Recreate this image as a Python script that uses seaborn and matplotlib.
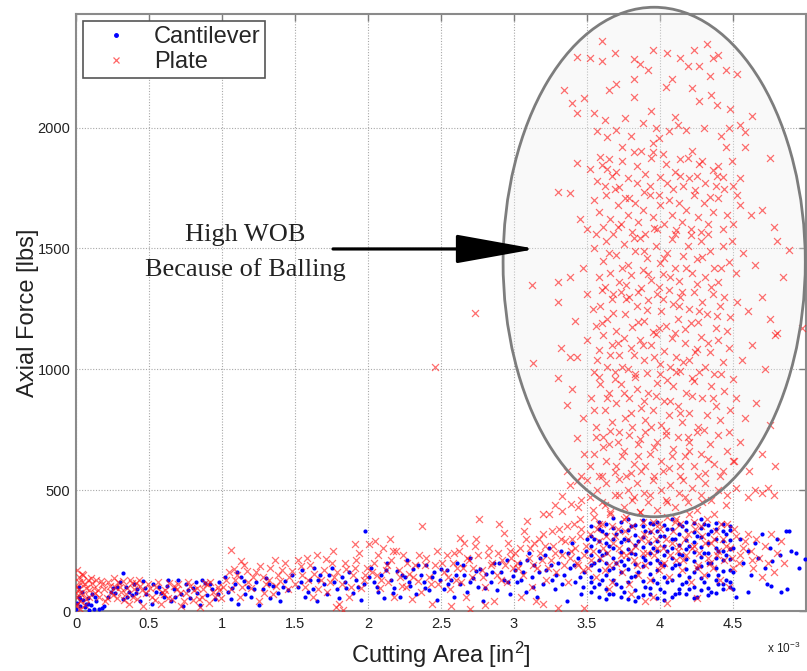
import matplotlib
matplotlib.use("Agg")
import matplotlib.pyplot as plt
import seaborn as sns
import pandas as pd
from matplotlib.patches import Ellipse
from matplotlib.lines import Line2D

# ---------------- data (x in 10^-3 in^2, y in lbs) ----------------
series_names = ["Cantilever", "Plate"]

x_ticks = [0, 0.5, 1, 1.5, 2, 2.5, 3, 3.5, 4, 4.5]
x_tick_labels = ["0", "0.5", "1", "1.5", "2", "2.5", "3", "3.5", "4", "4.5"]
y_ticks = [0, 500, 1000, 1500, 2000]
y_tick_labels = ["0", "500", "1000", "1500", "2000"]

plate_cloud = [
    (3.43,2294),(3.52,2286),(3.60,2357),(3.60,2274),(3.69,2307),(3.82,2282),(3.86,2262),(3.95,2323),
    (4.05,2307),(4.14,2286),(4.19,2255),(4.23,2323),(4.27,2257),(4.32,2344),(4.36,2290),(4.40,2300),
    (4.45,2240),(4.34,2215),(4.53,2220),(3.92,2240),(3.34,2157),(3.65,2157),(3.70,2180),(3.82,2200),
    (4.04,2170),(4.08,2200),(4.22,2165),
    (3.40,2100),(3.48,2124),(3.82,2128),(4.27,2110),(4.35,2135),(4.39,2095),(4.48,2075),(3.55,2060),
    (3.62,2030),(3.70,1990),(3.76,2040),(3.88,2020),(3.94,2070),(3.97,2000),(4.06,1985),(4.12,2010),
    (4.18,1990),(4.30,2000),(4.42,1965),(4.47,2000),(4.55,2010),(4.58,1980),(3.64,1960),(3.80,1965),
    (3.99,1955),(3.57,1985),(3.43,2062),(4.10,2045),(4.63,2050),
    (3.43,1854),(3.52,1830),(3.60,1845),(3.65,1870),(3.70,1815),(3.74,1920),(3.82,1900),(3.87,1905),
    (3.95,1900),(3.95,1937),(4.02,1890),(4.14,1870),(4.22,1905),(4.27,1850),(4.36,1825),(4.40,1840),
    (4.45,1920),(4.58,1920),(4.75,1875),(3.57,1780),(3.62,1760),(3.67,1800),(3.72,1755),(3.78,1790),
    (3.84,1770),(3.90,1810),(3.93,1760),(4.00,1795),(4.05,1770),(4.10,1815),(4.16,1760),(4.20,1790),
    (4.25,1800),(4.31,1770),(4.38,1760),(4.43,1795),(4.50,1760),(4.55,1790),(3.30,1734),(3.38,1730),
    (3.55,1700),(3.58,1650),(3.61,1590),(3.63,1720),(3.66,1620),(3.68,1560),(3.71,1680),(3.73,1600),
    (3.76,1710),(3.78,1640),(3.81,1570),(3.83,1690),(3.85,1610),(3.88,1660),(3.90,1560),(3.93,1720),
    (3.95,1630),(3.98,1580),(4.00,1680),(4.03,1600),(4.06,1700),(4.08,1640),(4.10,1560),(4.13,1690),
    (4.15,1610),(4.18,1660),(4.21,1580),(4.23,1720),(4.26,1630),(4.28,1570),(4.30,1690),(4.33,1600),
    (4.36,1650),(4.40,1710),(4.43,1580),(4.46,1640),(4.50,1600),(4.55,1680),(4.62,1640),(4.70,1660),
    (4.78,1590),(4.80,1530),(3.45,1620),(3.50,1580),
    (3.12,1348),(3.30,1361),(3.38,1380),(3.47,1420),(3.55,1500),(3.58,1380),(3.61,1450),(3.63,1530),
    (3.66,1400),(3.70,1475),(3.72,1360),(3.75,1520),(3.78,1430),(3.80,1390),(3.83,1490),(3.86,1545),
    (3.88,1410),(3.91,1460),(3.94,1370),(3.97,1510),(4.00,1440),(4.02,1395),(4.05,1480),(4.08,1540),
    (4.10,1420),(4.13,1365),(4.16,1470),(4.19,1510),(4.22,1400),(4.25,1455),(4.28,1530),(4.31,1380),
    (4.34,1490),(4.37,1420),(4.40,1360),(4.43,1510),(4.47,1445),(4.52,1400),(4.57,1480),(4.65,1430),
    (4.84,1382),(4.88,1494),
    (3.30,1280),(3.42,1200),(3.50,1310),(3.56,1180),(3.59,1260),(3.62,1340),(3.64,1210),(3.67,1290),
    (3.70,1160),(3.73,1320),(3.76,1230),(3.79,1300),(3.81,1175),(3.84,1260),(3.87,1335),(3.89,1200),
    (3.92,1285),(3.95,1155),(3.98,1310),(4.01,1240),(4.04,1180),(4.06,1330),(4.09,1270),(4.12,1210),
    (4.14,1300),(4.17,1165),(4.20,1250),(4.23,1320),(4.26,1195),(4.29,1280),(4.32,1230),(4.35,1340),
    (4.38,1170),(4.41,1260),(4.44,1300),(4.48,1215),(4.53,1280),(4.60,1240),(4.70,1300),(4.80,1149),
    (4.97,1170),(4.75,1210),
    (3.13,1025),(3.32,1087),(3.38,1050),(3.43,1050),(3.30,963),(3.50,1120),(3.55,990),(3.58,1080),
    (3.61,1140),(3.64,1010),(3.67,1100),(3.69,960),(3.72,1060),(3.75,1130),(3.78,1000),(3.80,1090),
    (3.83,970),(3.86,1120),(3.89,1040),(3.91,985),(3.94,1100),(3.97,1145),(4.00,1020),(4.03,1075),
    (4.05,955),(4.08,1130),(4.11,1050),(4.14,995),(4.17,1110),(4.20,1040),(4.22,965),(4.25,1085),
    (4.28,1135),(4.31,1010),(4.34,1070),(4.37,980),(4.40,1120),(4.43,1030),(4.47,1090),(4.50,960),
    (4.56,1040),(4.63,1100),(4.72,1000),(4.79,1141),
    (3.36,851),(3.40,920),(3.47,800),(3.53,880),(3.56,760),(3.59,940),(3.62,830),(3.65,900),
    (3.67,780),(3.70,860),(3.73,940),(3.76,800),(3.79,880),(3.81,760),(3.84,920),(3.87,840),
    (3.90,790),(3.92,900),(3.95,830),(3.98,945),(4.01,770),(4.03,870),(4.06,810),(4.09,930),
    (4.12,850),(4.15,780),(4.18,900),(4.20,820),(4.23,950),(4.26,760),(4.29,880),(4.32,810),
    (4.35,930),(4.38,850),(4.41,790),(4.44,910),(4.48,830),(4.52,880),(4.58,800),(4.66,860),(4.75,770),
    (3.36,581),(3.43,714),(3.43,539),(3.48,650),(3.52,600),(3.56,720),(3.58,560),(3.61,680),
    (3.63,620),(3.66,745),(3.69,575),(3.71,700),(3.74,640),(3.77,560),(3.79,730),(3.82,610),
    (3.85,690),(3.87,580),(3.90,740),(3.93,650),(3.96,560),(3.98,700),(4.01,620),(4.04,745),
    (4.06,590),(4.09,670),(4.12,720),(4.14,560),(4.17,640),(4.20,700),(4.23,600),(4.25,740),
    (4.28,650),(4.31,570),(4.34,690),(4.37,610),(4.40,730),(4.43,580),(4.46,660),(4.50,620),
    (4.55,700),(4.61,580),(4.79,601),(4.70,650),
    (3.20,402),(3.28,440),(3.33,477),(3.38,520),(3.46,460),(3.50,540),(3.54,420),(3.57,500),
    (3.60,450),(3.63,530),(3.66,410),(3.69,480),(3.72,545),(3.75,430),(3.78,500),(3.81,460),
    (3.84,530),(3.86,410),(3.89,490),(3.92,450),(3.95,540),(3.98,420),(4.01,500),(4.04,460),
    (4.07,520),(4.10,430),(4.13,490),(4.16,540),(4.19,450),(4.22,510),(4.25,420),(4.28,480),
    (4.31,530),(4.35,460),(4.40,500),(4.45,440),(4.52,510),(4.60,470),(4.65,500),(4.74,510),
    (4.70,490),(4.78,480),(2.46,1010),(2.73,1232),
]

plate_cloud_extra = [
    (3.59,1880),(3.64,1830),(3.69,1745),(3.74,1860),(3.79,1710),(3.84,1840),(3.89,1735),(3.94,1875),
    (3.99,1720),(4.04,1850),(4.09,1745),(4.14,1800),(4.19,1875),(4.24,1740),(4.29,1860),(4.34,1715),
    (4.39,1800),(4.44,1745),(4.49,1860),(4.53,1720),
    (3.56,1560),(3.60,1330),(3.65,1480),(3.68,1310),(3.71,1590),(3.74,1420),(3.77,1350),(3.82,1545),
    (3.85,1320),(3.89,1490),(3.92,1395),(3.96,1585),(3.99,1340),(4.03,1460),(4.07,1380),(4.11,1575),
    (4.15,1320),(4.18,1420),(4.21,1555),(4.25,1355),(4.29,1465),(4.33,1560),(4.36,1310),(4.42,1420),
    (4.49,1530),
    (3.54,1250),(3.57,1040),(3.60,1190),(3.66,1060),(3.68,1235),(3.71,1110),(3.74,1010),(3.77,1290),
    (3.82,1060),(3.85,1195),(3.88,1100),(3.91,1245),(3.96,1050),(3.99,1170),(4.02,1290),(4.07,1010),
    (4.10,1150),(4.13,1260),(4.16,1030),(4.21,1190),(4.24,1070),(4.27,1240),(4.33,1110),(4.39,1220),
    (4.46,1160),
    (3.55,830),(3.58,970),(3.61,720),(3.64,880),(3.69,990),(3.72,740),(3.75,900),(3.80,820),
    (3.83,980),(3.86,710),(3.89,870),(3.94,760),(3.97,890),(4.00,980),(4.04,730),(4.07,870),
    (4.11,990),(4.14,820),(4.19,720),(4.22,890),(4.27,990),(4.30,750),(4.36,880),(4.42,980),(4.47,740),
    (3.45,380),(3.52,470),(3.55,650),(3.58,360),(3.60,560),(3.62,440),(3.65,690),(3.67,350),
    (3.70,600),(3.72,480),(3.75,660),(3.77,390),(3.80,570),(3.82,470),(3.85,640),(3.88,370),
    (3.90,600),(3.93,480),(3.96,680),(3.99,360),(4.02,580),(4.05,450),(4.08,640),(4.11,380),
    (4.14,600),(4.17,470),(4.20,660),(4.23,370),(4.26,560),(4.29,450),(4.33,630),(4.37,400),
    (4.41,560),(4.46,480),(4.51,620),
]

plate_band = [
    (0.00,20),(0.01,60),(0.00,100),(0.02,140),(0.01,170),(0.03,40),(0.02,90),(0.04,120),(0.05,70),
    (0.03,10),(0.06,110),(0.07,50),(0.08,130),(0.09,85),(0.01,30),(0.04,155),(0.00,75),(0.06,25),
    (0.12,95),(0.14,130),(0.16,60),(0.18,110),(0.20,40),(0.22,120),(0.24,80),(0.26,135),(0.28,55),
    (0.30,100),(0.32,125),(0.34,70),(0.36,30),(0.38,115),(0.40,90),(0.42,50),(0.44,105),(0.46,20),
    (0.48,75),(0.15,85),(0.27,100),(0.35,95),(0.43,130),(0.11,115),
    (0.52,60),(0.55,100),(0.58,30),(0.61,85),(0.64,115),(0.66,50),(0.69,90),(0.72,20),(0.75,75),
    (0.78,105),(0.80,45),(0.83,95),(0.86,60),(0.88,115),(0.91,35),(0.94,80),(0.97,100),(0.99,55),
    (0.60,70),(0.70,110),(0.85,15),(0.92,120),
    (1.03,130),(1.06,90),(1.08,175),(1.10,150),(1.12,60),(1.15,190),(1.18,120),(1.20,95),(1.23,160),
    (1.25,40),(1.28,140),(1.30,110),(1.33,180),(1.35,70),(1.38,150),(1.40,125),(1.43,200),(1.45,90),
    (1.48,165),(1.06,253),(1.13,205),(1.36,210),
    (1.52,210),(1.55,150),(1.57,100),(1.60,190),(1.62,60),(1.65,230),(1.68,130),(1.70,170),(1.72,80),
    (1.75,200),(1.77,140),(1.80,30),(1.82,110),(1.85,175),(1.87,60),(1.90,150),(1.92,210),(1.95,95),
    (1.97,130),(1.99,180),(1.58,220),(1.78,15),(1.91,278),(1.76,249),(1.83,5),
    (2.01,278),(2.04,200),(2.06,150),(2.08,95),(2.10,260),(2.12,170),(2.14,120),(2.16,210),(2.18,60),
    (2.19,249),(2.22,140),(2.24,230),(2.26,100),(2.28,155),(2.30,50),(2.32,190),(2.34,125),(2.36,80),
    (2.37,353),(2.40,220),(2.42,140),(2.44,30),(2.46,190),(2.48,110),(2.05,290),(2.15,300),
    (2.52,160),(2.54,230),(2.56,90),(2.58,200),(2.60,130),(2.62,250),(2.63,303),(2.65,180),(2.67,60),
    (2.69,210),(2.71,140),(2.73,270),(2.74,299),(2.76,382),(2.78,170),(2.80,100),(2.82,230),(2.84,190),
    (2.86,40),(2.88,150),(2.90,361),(2.92,210),(2.93,324),(2.95,120),(2.97,250),(2.99,180),(2.57,20),
    (2.70,10),(2.80,25),
    (3.02,200),(3.04,260),(3.06,150),(3.08,300),(3.09,373),(3.10,220),(3.12,100),(3.14,280),(3.16,180),
    (3.18,240),(3.20,320),(3.22,130),(3.24,402),(3.25,210),(3.27,270),(3.29,160),(3.31,340),(3.33,230),
    (3.35,290),(3.37,120),(3.39,250),(3.41,360),(3.43,200),(3.45,310),(3.47,170),(3.49,270),(3.05,60),
    (3.15,40),(3.30,12),(3.44,430),(3.46,560),(3.20,30),(3.33,415),(3.39,444),
    (3.51,180),(3.52,320),(3.54,250),(3.55,390),(3.56,140),(3.58,290),(3.59,220),(3.60,360),(3.62,170),
    (3.63,310),(3.64,240),(3.66,400),(3.67,120),(3.68,280),(3.70,200),(3.71,340),(3.72,260),(3.74,160),
    (3.75,380),(3.77,230),(3.78,300),(3.79,110),(3.81,350),(3.82,210),(3.83,270),(3.85,150),(3.86,410),
    (3.88,240),(3.89,320),(3.90,190),(3.92,290),(3.93,130),(3.95,370),(3.96,230),(3.97,300),(3.99,170),
    (4.00,340),(4.02,260),(4.03,200),(4.05,390),(4.06,140),(4.08,280),(4.09,330),(4.11,210),(4.12,250),
    (4.14,360),(4.15,170),(4.17,300),(4.18,230),(4.20,400),(4.21,120),(4.23,270),(4.24,340),(4.26,190),
    (4.27,240),(4.29,310),(4.30,150),(4.32,380),(4.33,220),(4.35,280),(4.36,180),(4.38,330),(4.40,250),
    (4.41,130),(4.43,300),(4.44,210),(4.46,360),(4.48,260),(4.50,180),(4.52,310),(4.55,230),(4.58,290),
    (4.47,100),(4.05,33),(3.95,60),(3.80,70),(3.65,90),(3.48,12),(3.90,40),(4.25,52),
    (4.62,250),(4.64,180),(4.66,300),(4.68,220),(4.70,140),(4.72,270),(4.74,200),(4.76,320),(4.78,160),
    (4.80,240),(4.83,290),(4.85,200),
]

plate_band_extra = [
    (0.02,120),(0.03,75),(0.05,150),(0.07,95),(0.09,60),(0.10,135),(0.13,75),(0.17,125),(0.19,90),
    (0.21,55),(0.23,105),(0.25,65),(0.29,120),(0.31,80),(0.33,45),(0.37,130),(0.39,60),(0.41,115),
    (0.45,85),(0.49,110),
    (0.51,95),(0.54,45),(0.56,120),(0.59,80),(0.63,55),(0.67,105),(0.71,75),(0.74,40),(0.77,120),
    (0.81,85),(0.84,50),(0.87,90),(0.90,110),(0.95,60),(0.98,85),
    (1.01,100),(1.05,160),(1.09,130),(1.14,100),(1.17,165),(1.21,140),(1.26,185),(1.29,75),(1.32,130),
    (1.37,105),(1.41,170),(1.46,140),(1.50,110),(1.54,185),(1.59,130),(1.63,155),(1.66,90),(1.71,215),
    (1.74,120),(1.79,160),(1.84,200),(1.88,100),(1.91,180),(1.94,240),(1.98,150),
    (2.03,160),(2.07,230),(2.09,130),(2.13,190),(2.17,250),(2.21,170),(2.23,105),(2.27,200),(2.31,140),
    (2.35,230),(2.39,190),(2.43,110),(2.47,250),(2.51,200),(2.55,140),(2.59,240),(2.61,180),(2.64,120),
    (2.68,220),(2.72,180),(2.75,230),(2.79,140),(2.83,260),(2.85,200),(2.89,240),(2.91,130),(2.94,190),
    (2.96,280),(2.98,220),(2.66,280),
    (3.01,240),(3.03,180),(3.07,330),(3.11,260),(3.13,190),(3.17,300),(3.19,210),(3.21,270),(3.23,180),
    (3.26,330),(3.28,240),(3.32,300),(3.34,190),(3.36,350),(3.38,220),(3.40,300),(3.42,260),(3.44,190),
    (3.46,340),(3.48,230),
    (3.53,210),(3.57,340),(3.61,260),(3.65,190),(3.69,310),(3.73,230),(3.76,330),(3.80,250),(3.84,190),
    (3.87,300),(3.91,240),(3.94,330),(3.98,260),(4.01,190),(4.04,300),(4.07,230),(4.10,370),(4.13,270),
    (4.16,210),(4.19,320),(4.22,260),(4.25,180),(4.28,350),(4.31,280),(4.34,200),(4.37,300),(4.39,230),
    (4.42,360),(4.45,270),(4.49,220),(4.51,340),(4.54,200),(4.57,260),(4.60,320),(4.63,210),
]

cantilever_band = [
    (0.00,10),(0.01,35),(0.02,60),(0.03,20),(0.04,80),(0.05,45),(0.06,15),(0.07,30),(0.08,55),
    (0.09,5),(0.10,25),(0.12,10),(0.14,40),(0.16,8),(0.18,12),(0.19,20),(0.11,70),(0.02,100),
    (0.22,60),(0.25,95),(0.27,75),(0.30,120),(0.32,50),(0.34,100),(0.36,80),(0.38,65),(0.40,110),
    (0.42,90),(0.44,40),(0.46,125),(0.48,70),(0.32,158),
    (0.52,30),(0.55,80),(0.57,100),(0.60,60),(0.62,105),(0.65,40),(0.67,90),(0.70,130),(0.72,70),
    (0.75,110),(0.78,55),(0.80,95),(0.83,75),(0.85,25),(0.88,115),(0.90,65),(0.93,90),(0.95,50),
    (0.98,120),(0.63,130),(0.73,20),(0.86,130),
    (1.02,140),(1.04,80),(1.06,50),(1.09,110),(1.11,30),(1.13,140),(1.16,70),(1.18,100),(1.20,60),
    (1.23,120),(1.25,25),(1.28,90),(1.30,135),(1.33,55),(1.35,105),(1.38,75),(1.40,40),(1.43,125),
    (1.45,85),(1.48,150),(1.10,160),
    (1.52,100),(1.55,170),(1.57,60),(1.60,130),(1.62,90),(1.65,40),(1.67,150),(1.70,110),(1.72,70),
    (1.75,180),(1.77,120),(1.80,55),(1.82,140),(1.85,95),(1.87,160),(1.90,75),(1.92,130),(1.95,45),
    (1.97,110),(1.98,330),(1.63,180),
    (2.02,180),(2.04,120),(2.07,80),(2.09,150),(2.11,55),(2.13,200),(2.16,130),(2.18,95),(2.20,165),
    (2.22,60),(2.25,140),(2.27,210),(2.29,105),(2.31,175),(2.33,70),(2.36,150),(2.38,120),(2.40,190),
    (2.42,85),(2.45,160),(2.47,45),(2.49,130),
    (2.52,90),(2.54,170),(2.57,130),(2.59,60),(2.61,200),(2.63,110),(2.66,150),(2.68,80),(2.70,220),
    (2.72,135),(2.75,100),(2.77,175),(2.79,40),(2.81,155),(2.84,120),(2.86,200),(2.88,85),(2.91,160),
    (2.93,130),(2.95,210),(2.97,70),(2.99,145),
    (3.02,120),(3.04,200),(3.06,160),(3.08,80),(3.10,240),(3.12,140),(3.14,190),(3.16,60),(3.18,220),
    (3.20,110),(3.22,170),(3.24,260),(3.26,130),(3.28,90),(3.30,200),(3.32,250),(3.34,150),(3.36,40),
    (3.38,180),(3.40,280),(3.42,120),(3.44,220),(3.46,70),(3.48,160),(3.50,300),
    (4.55,300),(4.57,200),(4.60,250),(4.62,150),(4.65,280),(4.67,220),(4.70,320),(4.72,180),(4.75,260),
    (4.73,112),(4.76,105),(4.77,207),(4.80,300),(4.82,230),(4.86,332),(4.87,90),(4.90,250),(4.93,241),
    (4.95,180),(4.99,216),(4.83,80),(4.88,330),(4.60,80),(4.52,60),
]

cantilever_columns = [
    (3.53,80),(3.53,140),(3.53,190),(3.53,230),(3.53,270),(3.53,310),(3.53,350),(3.53,120),
    (3.58,60),(3.58,110),(3.58,170),(3.58,210),(3.58,250),(3.58,290),(3.58,340),(3.58,370),
    (3.63,90),(3.63,150),(3.63,200),(3.63,240),(3.63,280),(3.63,320),(3.63,360),(3.63,50),
    (3.68,70),(3.68,130),(3.68,180),(3.68,220),(3.68,260),(3.68,300),(3.68,345),(3.68,385),
    (3.73,100),(3.73,160),(3.73,205),(3.73,245),(3.73,285),(3.73,330),(3.73,370),(3.73,60),
    (3.78,50),(3.78,120),(3.78,175),(3.78,215),(3.78,255),(3.78,295),(3.78,335),(3.78,380),
    (3.83,85),(3.83,145),(3.83,195),(3.83,235),(3.83,275),(3.83,315),(3.83,355),(3.83,40),
    (3.88,65),(3.88,125),(3.88,185),(3.88,225),(3.88,265),(3.88,305),(3.88,350),(3.88,375),
    (3.93,95),(3.93,155),(3.93,200),(3.93,240),(3.93,280),(3.93,325),(3.93,365),(3.93,70),
    (3.98,55),(3.98,115),(3.98,170),(3.98,210),(3.98,250),(3.98,290),(3.98,330),(3.98,370),
    (4.03,80),(4.03,140),(4.03,190),(4.03,230),(4.03,270),(4.03,310),(4.03,355),(4.03,45),
    (4.08,60),(4.08,130),(4.08,180),(4.08,220),(4.08,260),(4.08,300),(4.08,340),(4.08,380),
    (4.13,90),(4.13,150),(4.13,195),(4.13,235),(4.13,275),(4.13,320),(4.13,360),(4.13,75),
    (4.18,70),(4.18,120),(4.18,175),(4.18,215),(4.18,255),(4.18,295),(4.18,335),(4.18,370),
    (4.23,100),(4.23,160),(4.23,205),(4.23,245),(4.23,285),(4.23,325),(4.23,365),(4.23,55),
    (4.28,85),(4.28,135),(4.28,185),(4.28,225),(4.28,265),(4.28,305),(4.28,345),(4.28,380),
    (4.33,95),(4.33,150),(4.33,200),(4.33,240),(4.33,280),(4.33,320),(4.33,355),(4.33,65),
    (4.38,75),(4.38,130),(4.38,180),(4.38,220),(4.38,260),(4.38,300),(4.38,340),(4.38,365),
    (4.43,110),(4.43,165),(4.43,210),(4.43,250),(4.43,290),(4.43,330),(4.43,360),(4.43,90),
    (4.48,120),(4.48,170),(4.48,215),(4.48,255),(4.48,295),(4.48,335),(4.48,350),(4.48,100),
]

cantilever_extra = [
    (3.55,100),(3.55,200),(3.55,300),(3.60,130),(3.60,230),(3.60,330),(3.65,70),(3.65,170),(3.65,270),
    (3.70,110),(3.70,200),(3.70,320),(3.75,80),(3.75,190),(3.75,300),(3.80,140),(3.80,240),(3.80,350),
    (3.85,60),(3.85,160),(3.85,290),(3.90,100),(3.90,210),(3.90,330),(3.95,130),(3.95,260),(3.95,360),
    (4.00,90),(4.00,200),(4.00,310),(4.05,120),(4.05,250),(4.05,340),(4.10,70),(4.10,190),(4.10,300),
    (4.15,110),(4.15,230),(4.15,350),(4.20,140),(4.20,270),(4.20,90),(4.25,60),(4.25,180),(4.25,310),
    (4.30,120),(4.30,240),(4.30,360),(4.35,80),(4.35,200),(4.35,330),(4.40,150),(4.40,250),(4.40,110),
    (4.45,130),(4.45,230),(4.45,320),(4.50,160),(4.50,260),(4.50,90),
    (1.54,120),(1.59,80),(1.66,130),(1.73,150),(1.79,90),(1.84,120),(1.93,100),(2.01,140),(2.06,100),
    (2.12,170),(2.17,75),(2.23,150),(2.28,120),(2.34,190),(2.39,95),(2.44,140),(2.50,175),(2.55,110),
    (2.60,150),(2.65,190),(2.70,120),(2.74,165),(2.80,95),(2.85,160),(2.90,200),(2.96,120),(3.01,170),
    (3.05,130),(3.09,210),(3.13,100),(3.17,160),(3.21,230),(3.25,190),(3.29,150),(3.33,110),(3.37,240),
    (3.41,190),(3.45,140),(3.49,250),(3.47,100),
    (0.03,50),(0.08,30),(0.13,60),(0.24,80),(0.28,100),(0.35,60),(0.41,75),(0.47,95),(0.53,110),
    (0.58,75),(0.68,60),(0.77,85),(0.82,120),(0.92,110),(0.97,70),(1.07,95),(1.15,125),(1.22,90),
    (1.32,110),(1.42,100),
]

# ---------------- style ----------------
sns.set_theme(style="white")
plt.rcParams["font.family"] = ["Liberation Sans", "DejaVu Sans"]
plt.rcParams["mathtext.default"] = "regular"

cant = pd.DataFrame(cantilever_band + cantilever_columns + cantilever_extra,
                    columns=["area", "force"])
plate = pd.DataFrame(plate_band + plate_band_extra + plate_cloud + plate_cloud_extra,
                     columns=["area", "force"])

fig = plt.figure(figsize=(8.07, 6.71), dpi=100)
ax = fig.add_axes([0.0942, 0.0894, 0.9046, 0.8897])

# highlight ellipse (fill behind points)
ax.add_patch(Ellipse((3.96, 1444), 2.07, 2108, facecolor="#efefef", edgecolor="none",
                     alpha=0.35, zorder=1, clip_on=False))

sns.scatterplot(data=cant, x="area", y="force", color="#0000ff", marker="o", s=9,
                linewidth=0, ax=ax, zorder=3, legend=False)
sns.scatterplot(data=plate, x="area", y="force", color="#ff1010", marker="x", s=25,
                linewidth=0.9, alpha=0.6, ax=ax, zorder=4, legend=False)

ax.add_patch(Ellipse((3.96, 1444), 2.07, 2108, facecolor="none", edgecolor="#7d7d7d",
                     linewidth=2.0, zorder=5, clip_on=False))

ax.set_xlim(0, 5)
ax.set_ylim(0, 2470)
ax.set_xticks(x_ticks)
ax.set_xticklabels(x_tick_labels)
ax.set_yticks(y_ticks)
ax.set_yticklabels(y_tick_labels)
ax.tick_params(direction="in", length=5, width=1, colors="#7d7d7d", labelcolor="#222222",
               labelsize=10.5, top=True, right=True, pad=4)
ax.grid(True, linestyle=(0, (1, 1.5)), color="#a8a8a8", linewidth=0.8)
ax.set_axisbelow(True)
for sp in ax.spines.values():
    sp.set_color("#8a8a8a")
    sp.set_linewidth(1.5)

ax.set_xlabel("Cutting Area [in$^2$]", fontsize=17, color="#222222", labelpad=7)
ax.set_ylabel("Axial Force [lbs]", fontsize=17, color="#222222", labelpad=-1)
fig.text(784 / 807, 1 - 648 / 671, "x 10$^{-3}$", fontsize=8.5, ha="center", va="center",
         color="#222222")

# annotation
ax.annotate("", xy=(3.15, 1498), xytext=(1.76, 1498),
            arrowprops=dict(arrowstyle="-|>,head_length=5.0,head_width=0.9",
                            mutation_scale=10, lw=2.3, color="black",
                            shrinkA=0, shrinkB=0), zorder=6)
ax.text(1.16, 1556, "High WOB", fontsize=19, family=["Liberation Serif", "DejaVu Serif"],
        ha="center", va="center", color="#222222", zorder=6)
ax.text(1.16, 1411, "Because of Balling", fontsize=19,
        family=["Liberation Serif", "DejaVu Serif"], ha="center", va="center",
        color="#222222", zorder=6)

handles = [Line2D([], [], marker="o", color="#0000ff", ls="none", markersize=2.5),
           Line2D([], [], marker="x", color="#ff6666", ls="none", markersize=5, mew=0.9)]
leg = ax.legend(handles, series_names, loc="upper left", bbox_to_anchor=(0.0096, 0.988),
                fontsize=17, frameon=True, fancybox=False, edgecolor="#555555",
                framealpha=1, borderpad=0.2, borderaxespad=0, handlelength=2.4,
                handletextpad=0.4, labelspacing=0.15)
leg.get_frame().set_linewidth(1.2)
leg.set_zorder(10)

fig.savefig("out.png", dpi=100)
